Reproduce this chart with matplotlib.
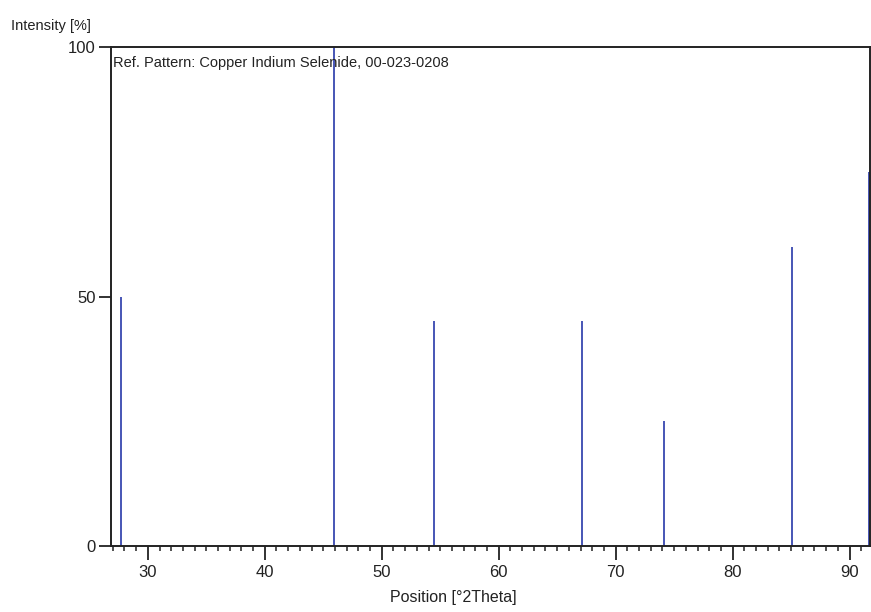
import matplotlib
matplotlib.use("Agg")
import matplotlib.pyplot as plt
from matplotlib.ticker import MultipleLocator

# ---------- Data ----------
positions = [27.7, 45.9, 54.45, 67.1, 74.15, 85.05, 91.65]  # deg 2Theta
intensities = [50, 100, 45, 45, 25, 60, 75]               # %
x_ticks = [30, 40, 50, 60, 70, 80, 90]
y_ticks = [0, 50, 100]

plt.rcParams["font.family"] = ["Liberation Sans", "DejaVu Sans"]

fig = plt.figure(figsize=(8.71, 6.12), dpi=100)
ax = fig.add_axes([0.1274, 0.1078, 0.8715, 0.8154])

ax.vlines(positions, 0, intensities, color="#3848b0", lw=1.3)

ax.set_xlim(26.85, 91.75)
ax.set_ylim(0, 100)
ax.set_xticks(x_ticks)
ax.set_yticks(y_ticks)
ax.xaxis.set_minor_locator(MultipleLocator(1))

ax.tick_params(axis="x", which="major", direction="out", length=10, width=1.3,
               labelsize=12, colors="#222222", pad=3.5)
ax.tick_params(axis="y", which="major", direction="out", length=8.5, width=1.3,
               labelsize=12, colors="#222222", pad=2.5)
ax.tick_params(axis="x", which="minor", direction="out", length=3.5, width=1.1,
               colors="#222222")

for side in ["left", "top", "bottom", "right"]:
    ax.spines[side].set_linewidth(1.4)
    ax.spines[side].set_color("#222222")

ax.text(0.003, 0.982, "Ref. Pattern: Copper Indium Selenide, 00-023-0208",
        transform=ax.transAxes, ha="left", va="top", fontsize=10.5, color="#222222")

fig.text(0.013, 0.957, "Intensity [%]", ha="left", va="center", fontsize=10.5, color="#222222")
fig.text(0.521, 0.012, "Position [°2Theta]", ha="center", va="bottom", fontsize=11.5,
         color="#222222")

fig.savefig("out.png", dpi=100)
